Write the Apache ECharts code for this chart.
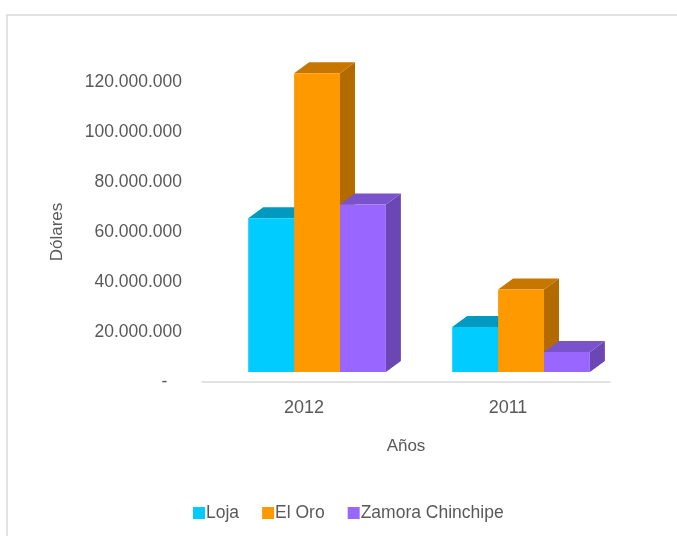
<!DOCTYPE html>
<html>
<head>
<meta charset="utf-8">
<script src="https://cdn.jsdelivr.net/npm/echarts@6/dist/echarts.min.js"></script>
<style>
  html, body { margin: 0; padding: 0; background: #fff; }
  #main { width: 677px; height: 536px; }
</style>
</head>
<body>
<div id="main"></div>
<script>
// data
const years = ['2012', '2011'];
const loja = [61500000, 18000000];
const elOro = [119500000, 33000000];
const zamora = [67000000, 8000000];
const yMax = 120000000;
const yStep = 20000000;

const textColor = '#595959';
const fontFamily = 'Liberation Sans, Arial, sans-serif';

const palette = {
  Loja: { front: '#00ccff', side: '#0099bf', top: '#0099bf' },
  'El Oro': { front: '#ff9900', side: '#b36b00', top: '#c77700' },
  'Zamora Chinchipe': { front: '#9966ff', side: '#6b47b3', top: '#7a52cc' }
};

const fmt = (v) => {
  if (v === 0) return '-   ';
  return String(v).replace(/\B(?=(\d{3})+(?!\d))/g, '.');
};

// 3d column drawn with a custom series, positions from the axis scale
const bar3d = (name, values, idx) => {
  const c = palette[name];
  return {
    name: name,
    type: 'custom',
    itemStyle: { color: c.front },
    encode: { x: 0, y: 1 },
    data: values.map((v, i) => [i, v]),
    renderItem: (params, api) => {
      const top = api.coord([api.value(0), api.value(1)]);
      const base = api.coord([api.value(0), 0]);
      const band = api.size([1, 0])[0];
      const w = band * 0.225;
      const dx = band * 0.0735;
      const dy = band * 0.054;
      const sx = band * 0.064;
      const sy = band * 0.049;
      const x0 = top[0] + sx + (idx - 1.5) * w;
      const x1 = x0 + w;
      const y0 = top[1] - sy;
      const y1 = base[1] - sy;
      return {
        type: 'group',
        children: [
          {
            type: 'polygon',
            shape: { points: [[x1, y0], [x1 + dx, y0 - dy], [x1 + dx, y1 - dy], [x1, y1]] },
            style: { fill: c.side }
          },
          {
            type: 'polygon',
            shape: { points: [[x0, y0], [x0 + dx, y0 - dy], [x1 + dx, y0 - dy], [x1, y0]] },
            style: { fill: c.top }
          },
          {
            type: 'rect',
            shape: { x: x0, y: y0, width: w, height: y1 - y0 },
            style: { fill: c.front }
          }
        ]
      };
    }
  };
};

const chartDom = document.getElementById('main');
const myChart = echarts.init(chartDom, undefined, { renderer: 'canvas' });
let option;

option = {
  animation: false,
  backgroundColor: '#fff',
  textStyle: { fontFamily: fontFamily },
  graphic: [
    {
      type: 'rect',
      shape: { x: 7, y: 15, width: 720, height: 600 },
      style: { fill: 'none', stroke: '#d9d9d9', lineWidth: 1.5 },
      silent: true
    }
  ],
  legend: {
    left: 188,
    top: 499,
    itemWidth: 12,
    itemHeight: 12,
    itemGap: 23,
    icon: 'rect',
    textStyle: {
      color: textColor,
      fontSize: 17.5,
      fontFamily: fontFamily,
      padding: [0, 0, 0, -4]
    },
    data: ['Loja', 'El Oro', 'Zamora Chinchipe']
  },
  grid: {
    left: 202,
    right: 67,
    top: 82,
    bottom: 154
  },
  xAxis: {
    type: 'category',
    data: years,
    name: 'Años',
    nameLocation: 'middle',
    nameGap: 56,
    nameTextStyle: { color: textColor, fontSize: 17 },
    axisLine: { lineStyle: { color: '#d9d9d9', width: 1.5 } },
    axisTick: { show: false },
    axisLabel: { color: textColor, fontSize: 18, margin: 17 },
    splitLine: { show: false }
  },
  yAxis: {
    type: 'value',
    min: 0,
    max: yMax,
    interval: yStep,
    name: 'Dólares',
    nameLocation: 'middle',
    nameGap: 136,
    nameTextStyle: { color: textColor, fontSize: 17 },
    axisLine: { show: false },
    axisTick: { show: false },
    splitLine: { show: false },
    axisLabel: {
      color: textColor,
      fontSize: 17.5,
      margin: 20,
      formatter: fmt
    }
  },
  series: [
    bar3d('Loja', loja, 0),
    bar3d('El Oro', elOro, 1),
    bar3d('Zamora Chinchipe', zamora, 2)
  ]
};

if (option && typeof option === 'object') {
  myChart.setOption(option);
}
window.addEventListener('resize', () => {
  myChart.resize();
});
</script>
</body>
</html>
